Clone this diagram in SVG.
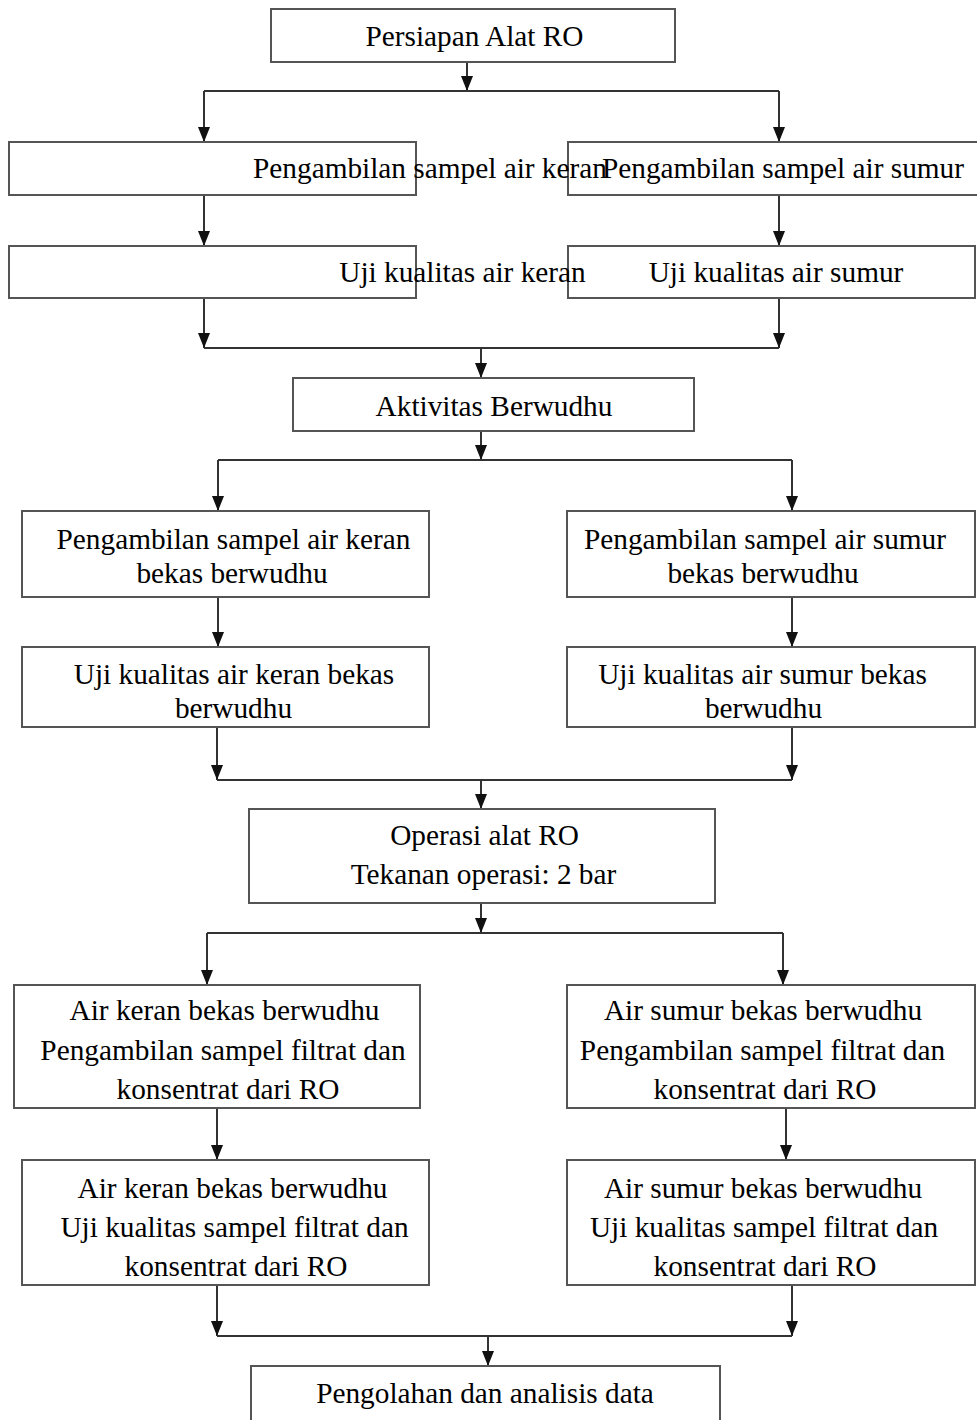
<svg xmlns="http://www.w3.org/2000/svg" width="977" height="1420" viewBox="0 0 977 1420">
<style>
.box{fill:#fff;stroke:#555;stroke-width:2}
.t{font-family:"Liberation Serif","Times New Roman","DejaVu Serif",serif;font-size:29.3px;fill:#000;text-anchor:middle}
.c{fill:none;stroke:#333;stroke-width:2}
</style>
<defs>
<marker id="ah" markerUnits="userSpaceOnUse" markerWidth="16" markerHeight="14" refX="15" refY="6" orient="auto" viewBox="0 0 16 12">
<path d="M0,0 L15,6 L0,12 Z" fill="#111"/>
</marker>
</defs>
<rect width="977" height="1420" fill="#fff"/>
<g id="connectors">
<path class="c" d="M467,62 V91" marker-end="url(#ah)"/>
<path class="c" d="M204,91 H779"/>
<path class="c" d="M204,91 V142" marker-end="url(#ah)"/>
<path class="c" d="M779,91 V142" marker-end="url(#ah)"/>
<path class="c" d="M204,195 V246" marker-end="url(#ah)"/>
<path class="c" d="M779,195 V246" marker-end="url(#ah)"/>
<path class="c" d="M204,298 V348" marker-end="url(#ah)"/>
<path class="c" d="M779,298 V348" marker-end="url(#ah)"/>
<path class="c" d="M204,348 H779"/>
<path class="c" d="M481,348 V378" marker-end="url(#ah)"/>
<path class="c" d="M481,431 V460" marker-end="url(#ah)"/>
<path class="c" d="M218,460 H792"/>
<path class="c" d="M218,460 V511" marker-end="url(#ah)"/>
<path class="c" d="M792,460 V511" marker-end="url(#ah)"/>
<path class="c" d="M218,597 V647" marker-end="url(#ah)"/>
<path class="c" d="M792,597 V647" marker-end="url(#ah)"/>
<path class="c" d="M217,727 V780" marker-end="url(#ah)"/>
<path class="c" d="M792,727 V780" marker-end="url(#ah)"/>
<path class="c" d="M217,780 H792"/>
<path class="c" d="M481,780 V809" marker-end="url(#ah)"/>
<path class="c" d="M481,903 V933" marker-end="url(#ah)"/>
<path class="c" d="M207,933 H783"/>
<path class="c" d="M207,933 V985" marker-end="url(#ah)"/>
<path class="c" d="M783,933 V985" marker-end="url(#ah)"/>
<path class="c" d="M217,1108 V1160" marker-end="url(#ah)"/>
<path class="c" d="M786,1108 V1160" marker-end="url(#ah)"/>
<path class="c" d="M217,1285 V1336" marker-end="url(#ah)"/>
<path class="c" d="M792,1285 V1336" marker-end="url(#ah)"/>
<path class="c" d="M217,1336 H792"/>
<path class="c" d="M488,1336 V1366" marker-end="url(#ah)"/>
</g>
<g id="n1"><rect class="box" x="271" y="9" width="404" height="53"/><text class="t" x="474.5" y="46">Persiapan Alat RO</text></g>
<g id="n2a"><rect class="box" x="9" y="142" width="407" height="53"/></g>
<g id="n2b"><rect class="box" x="568" y="142" width="420" height="53"/></g>
<g id="n3a"><rect class="box" x="9" y="246" width="407" height="52"/></g>
<g id="n3b"><rect class="box" x="568" y="246" width="407" height="52"/></g>
<g id="n2a-label"><text class="t" x="430" y="177.5">Pengambilan sampel air keran</text></g>
<g id="n2b-label"><text class="t" x="783" y="177.5">Pengambilan sampel air sumur</text></g>
<g id="n3a-label"><text class="t" x="462.5" y="281.5">Uji kualitas air keran</text></g>
<g id="n3b-label"><text class="t" x="776" y="281.5">Uji kualitas air sumur</text></g>
<g id="n4"><rect class="box" x="293" y="378" width="401" height="53"/><text class="t" x="494" y="416">Aktivitas Berwudhu</text></g>
<g id="n5a"><rect class="box" x="22" y="511" width="407" height="86"/><text class="t" x="233.5" y="548.5">Pengambilan sampel air keran</text><text class="t" x="232" y="582.5">bekas berwudhu</text></g>
<g id="n5b"><rect class="box" x="567" y="511" width="408" height="86"/><text class="t" x="765" y="548.5">Pengambilan sampel air sumur</text><text class="t" x="763" y="582.5">bekas berwudhu</text></g>
<g id="n6a"><rect class="box" x="22" y="647" width="407" height="80"/><text class="t" x="234" y="683.5">Uji kualitas air keran bekas</text><text class="t" x="233.5" y="717.5">berwudhu</text></g>
<g id="n6b"><rect class="box" x="567" y="647" width="408" height="80"/><text class="t" x="762.5" y="683.5">Uji kualitas air sumur bekas</text><text class="t" x="763.5" y="717.5">berwudhu</text></g>
<g id="n7"><rect class="box" x="249" y="809" width="466" height="94"/><text class="t" x="484.5" y="845">Operasi alat RO</text><text class="t" x="483.5" y="884">Tekanan operasi: 2 bar</text></g>
<g id="n8a"><rect class="box" x="14" y="985" width="406" height="123"/><text class="t" x="224.5" y="1020">Air keran bekas berwudhu</text><text class="t" x="223" y="1060">Pengambilan sampel filtrat dan</text><text class="t" x="228" y="1099">konsentrat dari RO</text></g>
<g id="n8b"><rect class="box" x="567" y="985" width="408" height="123"/><text class="t" x="763" y="1020">Air sumur bekas berwudhu</text><text class="t" x="762.5" y="1060">Pengambilan sampel filtrat dan</text><text class="t" x="765" y="1099">konsentrat dari RO</text></g>
<g id="n9a"><rect class="box" x="22" y="1160" width="407" height="125"/><text class="t" x="232.5" y="1198">Air keran bekas berwudhu</text><text class="t" x="234.5" y="1237">Uji kualitas sampel filtrat dan</text><text class="t" x="236" y="1276">konsentrat dari RO</text></g>
<g id="n9b"><rect class="box" x="567" y="1160" width="408" height="125"/><text class="t" x="763" y="1198">Air sumur bekas berwudhu</text><text class="t" x="764" y="1237">Uji kualitas sampel filtrat dan</text><text class="t" x="765" y="1276">konsentrat dari RO</text></g>
<g id="n10"><rect class="box" x="251" y="1366" width="469" height="70"/><text class="t" x="485" y="1403">Pengolahan dan analisis data</text></g>
</svg>
